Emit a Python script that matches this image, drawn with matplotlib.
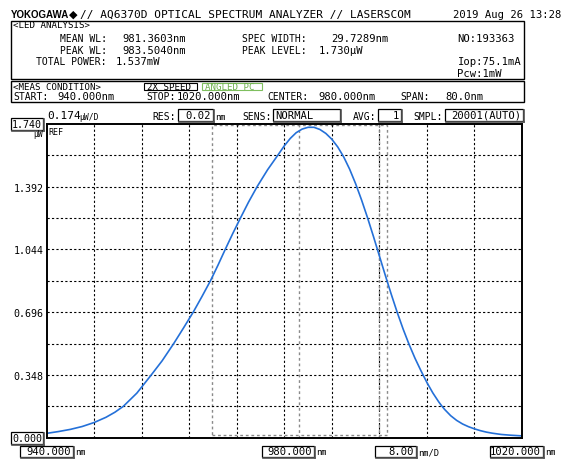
import numpy as np
import matplotlib
matplotlib.use('Agg')
import matplotlib.pyplot as plt
from matplotlib.patches import Rectangle
from matplotlib.lines import Line2D


# -----------------------------------------------------------
# trace data (nm, uW)
# -----------------------------------------------------------
wl_nm = [940.0, 942.0, 944.0, 946.0, 948.0, 950.0, 951.5, 952.93, 955.2,
         957.63, 959.45, 961.41, 963.05, 964.69, 966.15, 967.59, 968.85,
         970.08, 971.36, 972.64, 974.0, 975.45, 977.2, 978.93, 980.0,
         981.0, 982.0, 983.0, 984.0, 985.0, 986.0, 987.0, 988.0, 989.0,
         990.0, 991.0, 992.0, 993.0, 994.0, 995.0, 996.0, 997.0, 998.0,
         999.0, 1000.0, 1001.0, 1002.0, 1003.0, 1004.0, 1005.0, 1006.0,
         1006.5, 1007.0, 1008.0, 1009.0, 1010.0, 1011.0, 1012.0, 1013.0,
         1014.0, 1015.0, 1016.5, 1018.0, 1020.0]
power_uw = [0.024, 0.034, 0.046, 0.062, 0.084, 0.113, 0.141, 0.174, 0.247,
            0.348, 0.426, 0.522, 0.608, 0.696, 0.782, 0.870, 0.956,
            1.044, 1.133, 1.218, 1.306, 1.392, 1.485, 1.566, 1.617,
            1.658, 1.690, 1.710, 1.720, 1.720, 1.708, 1.686, 1.654, 1.611,
            1.556, 1.488, 1.408, 1.318, 1.220, 1.116, 1.008, 0.900, 0.795,
            0.695, 0.602, 0.517, 0.440, 0.371, 0.306, 0.248, 0.198,
            0.176, 0.156, 0.122, 0.096, 0.076, 0.061, 0.049, 0.039,
            0.031, 0.025, 0.018, 0.014, 0.010]

# analysis markers (nm)
marker_rect = [967.8, 997.3]
marker_lines = [982.5, 995.9]

x_start, x_stop = 940.0, 1020.0
y_ref, y_div = 1.740, 0.174
x_div = 8.0
y_labels = ['0.348', '0.696', '1.044', '1.392']

W, H = 565, 460
MONO = 'DejaVu Sans Mono'
LBL = 7.0   # small caption labels


def fx(x):
    return x / W


def fy(y):
    return 1 - y / H


fig = plt.figure(figsize=(W / 100, H / 100), dpi=100)
fig.patch.set_facecolor('white')


def txt(x, y, s, size=7.6, ha='left', color='black', **kw):
    fig.text(fx(x), fy(y), s, fontsize=size, ha=ha, va='center',
             family=MONO, color=color, **kw)


def box(x0, y0, x1, y1, color='black', shadow=True, lw=0.9):
    fig.add_artist(Rectangle((fx(x0), fy(y1)), fx(x1) - fx(x0), (y1 - y0) / H,
                             transform=fig.transFigure, facecolor='white',
                             edgecolor=color, lw=lw, zorder=3))
    if shadow:
        fig.add_artist(Line2D([fx(x1 + 1), fx(x1 + 1)], [fy(y0 + 1), fy(y1 + 1)],
                              transform=fig.transFigure, color='#555555', lw=1.2, zorder=3))
        fig.add_artist(Line2D([fx(x0 + 1), fx(x1 + 1)], [fy(y1 + 1), fy(y1 + 1)],
                              transform=fig.transFigure, color='#555555', lw=1.2, zorder=3))


# -----------------------------------------------------------
# header
# -----------------------------------------------------------
fig.text(fx(11), fy(15), 'YOKOGAWA', fontsize=7.0, ha='left', va='center',
         family='Liberation Sans', weight='bold')
fig.text(fx(69), fy(15), '\u25c6', fontsize=8, ha='left', va='center', family='DejaVu Sans')
txt(80, 15, '// AQ6370D OPTICAL SPECTRUM ANALYZER // LASERSCOM', size=8.0)
txt(561, 15, '2019 Aug 26 13:28', size=7.6, ha='right')

# LED analysis block
box(11, 22, 524, 80, shadow=False, lw=1.0)
fig.add_artist(Line2D([fx(13), fx(100)], [fy(29.5), fy(29.5)],
                      transform=fig.transFigure, color='black', lw=0.8))
txt(13, 25.5, '<LED ANALYSIS>', size=6.6)
txt(107, 38.5, 'MEAN WL:', size=LBL, ha='right')
txt(122, 38.5, '981.3603nm')
txt(107, 50.5, 'PEAK WL:', size=LBL, ha='right')
txt(122, 50.5, '983.5040nm')
txt(107, 62, 'TOTAL POWER:', size=LBL, ha='right')
txt(116, 62, '1.537mW')
txt(242, 38.5, 'SPEC WIDTH:', size=LBL)
txt(331, 38.5, '29.7289nm')
txt(242, 50.5, 'PEAK LEVEL:', size=LBL)
txt(319, 50.5, '1.730\u00b5W')
txt(457, 38.5, 'NO:193363')
txt(458, 62, 'Iop:75.1mA')
txt(457, 74, 'Pcw:1mW')

# measurement condition block
box(11, 82, 524, 103, shadow=False, lw=1.0)
txt(13, 87, '<MEAS CONDITION>', size=6.6)
box(144, 83.5, 197, 90.5, shadow=False, lw=0.8)
txt(147, 87, '2X SPEED', size=6.6)
box(202, 83.5, 262, 90.5, color='#7fbf5f', shadow=False, lw=0.8)
txt(205, 87, 'ANGLED PC', size=6.6, color='#6fb04f')
txt(13, 97.5, 'START:', size=LBL)
txt(57, 97.5, '940.000nm')
txt(146, 97.5, 'STOP:', size=LBL)
txt(177, 97.5, '1020.000nm')
txt(267, 97.5, 'CENTER:', size=LBL)
txt(318, 97.5, '980.000nm')
txt(400, 97.5, 'SPAN:', size=LBL)
txt(445, 97.5, '80.0nm')

# settings row
txt(47, 116, '0.174', size=8.0)
txt(79, 117, '\u00b5W/D', size=5.8)
txt(152, 117, 'RES:', size=LBL)
box(178, 110, 213, 121.5)
txt(211, 116, '0.02', ha='right', zorder=4)
txt(215, 117, 'nm', size=6.3)
txt(242, 117, 'SENS:', size=LBL)
box(273, 110, 340, 121.5)
txt(275, 116, 'NORMAL', zorder=4)
txt(353, 117, 'AVG:', size=LBL)
box(378, 110, 401, 121.5)
txt(399, 116, '1', ha='right', zorder=4)
txt(413, 117, 'SMPL:', size=LBL)
box(445, 110, 523, 121.5)
txt(521, 116, '20001(AUTO)', ha='right', zorder=4)

# reference level boxes
box(11, 119, 43, 130.5)
txt(42, 125, '1.740', size=7.2, ha='right', zorder=4)
txt(43.5, 134.5, '\u00b5W', size=5.8, ha='right')
box(11, 433, 43, 444.5)
txt(42, 439, '0.000', size=7.2, ha='right', zorder=4)

# bottom wavelength row
box(20, 447, 73, 458)
txt(71, 452.5, '940.000', ha='right', zorder=4)
txt(75, 453, 'nm', size=6.3)
box(262, 447, 314, 458)
txt(312, 452.5, '980.000', ha='right', zorder=4)
txt(316, 453, 'nm', size=6.3)
box(375, 447, 416, 458)
txt(414, 452.5, '8.00', ha='right', zorder=4)
txt(418, 453, 'nm/D', size=6.3)
box(490, 447, 543, 458)
txt(541, 452.5, '1020.000', ha='right', zorder=4)
txt(545, 453, 'nm', size=6.3)

# -----------------------------------------------------------
# trace area
# -----------------------------------------------------------
ax_l, ax_r, ax_t, ax_b = 46.5, 522.0, 124.7, 438.7
ax = fig.add_axes([fx(ax_l), fy(ax_b), (ax_r - ax_l) / W, (ax_b - ax_t) / H])
ax.set_xlim(x_start, x_stop)
ax.set_ylim(0, y_ref)

x_grid = np.arange(x_start + x_div, x_stop, x_div)
y_grid = np.arange(1, 10) * y_div
ax.set_xticks(x_grid)
ax.set_xticklabels([])
ax.set_yticks(y_grid)
ax.set_yticklabels([y_labels[i // 2] if i % 2 == 1 else '' for i in range(len(y_grid))],
                   family=MONO, fontsize=7.2)
ax.tick_params(which='both', length=0, pad=2)
ax.grid(True, which='major', color='black', lw=0.8, linestyle=(0, (2.0, 2.0)))

ax.add_patch(Rectangle((marker_rect[0], 0.017), marker_rect[1] - marker_rect[0], 1.716,
                       fill=False, edgecolor='#8a8a8a', lw=1.0, linestyle=(0, (2.0, 2.0))))
for v in marker_lines:
    ax.axvline(v, color='#8a8a8a', lw=1.0, linestyle=(0, (2.0, 2.0)))

ax.plot(wl_nm, power_uw, color='#2470d8', lw=1.2)

for s in ax.spines.values():
    s.set_linewidth(1.4)
    s.set_color('black')

ax.text(0.004, 0.99, 'REF', transform=ax.transAxes, ha='left', va='top',
        family=MONO, fontsize=6.0)

fig.savefig('out.png', dpi=100)
